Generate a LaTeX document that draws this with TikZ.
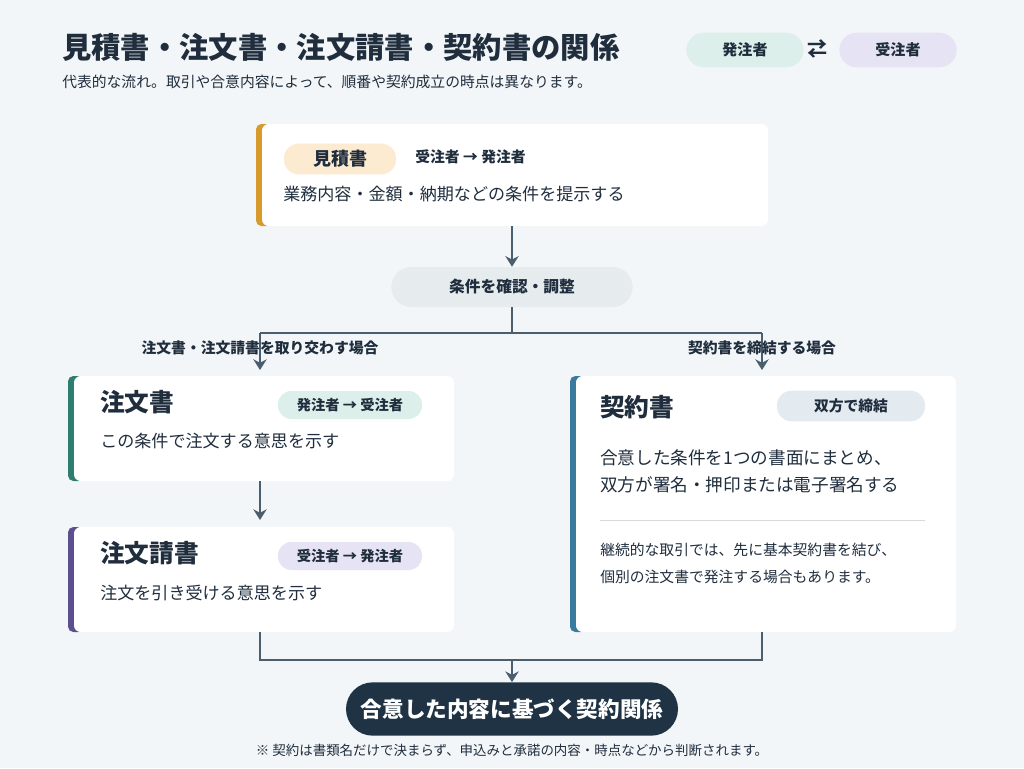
\documentclass[tikz,border=0pt]{standalone}
\usepackage{fontspec}
\setmainfont{Noto Sans CJK JP}
\usetikzlibrary{arrows.meta,positioning}
\definecolor{bgc}{HTML}{F3F6F8}
\definecolor{ink}{HTML}{1F2D3D}
\definecolor{linec}{HTML}{4A5E6E}
\definecolor{orangec}{HTML}{D69A2D}
\definecolor{greenc}{HTML}{2E7D6E}
\definecolor{purplec}{HTML}{5B4F8F}
\definecolor{bluec}{HTML}{3A7A9E}
\definecolor{greenl}{HTML}{DDEFEA}
\definecolor{purplel}{HTML}{E6E4F4}
\definecolor{orangel}{HTML}{FCEBD0}
\definecolor{bluel}{HTML}{E3EBF1}
\definecolor{grayl}{HTML}{E6EBEE}
\definecolor{darkc}{HTML}{1F3344}
\newcommand{\fs}[1]{\fontsize{#1}{#1}\selectfont}
\tikzset{
  card/.style={fill=white,rounded corners=5pt,draw=black!6},
  pill/.style={rounded corners=14pt,inner sep=0pt,text=ink,font=\fs{11.3}\bfseries},
  txt/.style={anchor=west,inner sep=0pt,text=ink},
  flow/.style={draw=linec,line width=1.7pt},
  arr/.style={flow,-{Stealth[length=8pt,width=10pt]}},
}
\begin{document}
\begin{tikzpicture}[x=0.75pt,y=-0.75pt]
\path[fill=bgc] (0,0) rectangle (1024,768);
\useasboundingbox (0,0) rectangle (1024,768);
% header
\node[txt,font=\fs{22}\bfseries] (title) at (62,47) {見積書・注文書・注文請書・契約書の関係};
\node[txt,font=\fs{11.1}] (sub) at (62,82) {代表的な流れ。取引や合意内容によって、順番や契約成立の時点は異なります。};
\node[pill,fill=greenl,minimum width=88pt,minimum height=26pt,rounded corners=13pt] (lgA) at (745,50) {発注者};
\node[pill,fill=purplel,minimum width=88pt,minimum height=26pt,rounded corners=13pt] (lgB) at (898,50) {受注者};
\node[text=ink,font=\fs{15}\bfseries] (lgX) at (817,49) {⇄};
% estimate card
\fill[orangec,rounded corners=4pt] (256,124) rectangle (272,226);
\path[card,draw=none] (262,124) rectangle (768,226);
\node[pill,fill=orangel,minimum width=84pt,minimum height=23pt,rounded corners=11pt,font=\fs{13.5}\bfseries] (estT) at (340,159) {見積書};
\node[txt,font=\fs{11.1}\bfseries] (estD) at (415,157) {受注者 → 発注者};
\node[txt,font=\fs{12.8}] (estB) at (283,194) {業務内容・金額・納期などの条件を提示する};
\coordinate (estS) at (512,226);
% adjust
\node[pill,fill=grayl,minimum width=181pt,minimum height=30pt,rounded corners=15pt,font=\fs{11.8}\bfseries] (adj) at (512,287) {条件を確認・調整};
\draw[arr] (estS) -- (adj.north);
\coordinate (split) at (512,333);
\coordinate (splitL) at (260,333);
\coordinate (splitR) at (762,333);
\coordinate (inL) at (260,370);
\coordinate (inR) at (762,370);
\draw[flow] (adj.south) -- (split);
\draw[flow] (splitL) -- (splitR);
\draw[arr] (splitL) -- (inL);
\draw[arr] (splitR) -- (inR);
\node[text=ink,font=\fs{11.1}\bfseries] (caseL) at (260,348) {注文書・注文請書を取り交わす場合};
\node[text=ink,font=\fs{11.1}\bfseries] (caseR) at (762,348) {契約書を締結する場合};
% order card
\fill[greenc,rounded corners=4pt] (68,376) rectangle (84,481);
\path[card,draw=none] (74,376) rectangle (454,481);
\node[txt,font=\fs{18.5}\bfseries] (ordT) at (100,402) {注文書};
\node[pill,fill=greenl,minimum width=108pt,minimum height=21pt,rounded corners=10pt,font=\fs{10.7}\bfseries] (ordD) at (350,405) {発注者 → 受注者};
\node[txt,font=\fs{12.8}] (ordB) at (100,441) {この条件で注文する意思を示す};
% acceptance card
\fill[purplec,rounded corners=4pt] (68,527) rectangle (84,632);
\path[card,draw=none] (74,527) rectangle (454,632);
\node[txt,font=\fs{18.5}\bfseries] (accT) at (100,553) {注文請書};
\node[pill,fill=purplel,minimum width=108pt,minimum height=21pt,rounded corners=10pt,font=\fs{10.7}\bfseries] (accD) at (350,556) {受注者 → 発注者};
\node[txt,font=\fs{12.8}] (accB) at (100,593) {注文を引き受ける意思を示す};
\coordinate (ordS) at (260,481);
\coordinate (accN) at (260,520);
\draw[arr] (ordS) -- (accN);
% contract card
\fill[bluec,rounded corners=4pt] (570,376) rectangle (586,632);
\path[card,draw=none] (576,376) rectangle (956,632);
\node[txt,font=\fs{18.5}\bfseries] (conT) at (600,407) {契約書};
\node[pill,fill=bluel,minimum width=111pt,minimum height=23pt,rounded corners=11pt,font=\fs{11.1}\bfseries] (conD) at (851,406) {双方で締結};
\node[txt,font=\fs{13.2}] (conB1) at (600,458) {合意した条件を1つの書面にまとめ、};
\node[txt,font=\fs{13.2}] (conB2) at (600,485) {双方が署名・押印または電子署名する};
\draw[black!15] (600,520) -- (925,520);
\node[txt,font=\fs{11.1}] (conN1) at (600,550) {継続的な取引では、先に基本契約書を結び、};
\node[txt,font=\fs{11.1}] (conN2) at (600,577) {個別の注文書で発注する場合もあります。};
% merge
\coordinate (accS) at (260,632);
\coordinate (conS) at (762,632);
\coordinate (mL) at (260,660);
\coordinate (mR) at (762,660);
\coordinate (mC) at (512,660);
\node[fill=darkc,text=white,rounded corners=20pt,minimum width=249pt,minimum height=40pt,inner sep=0pt,font=\fs{16.2}\bfseries] (res) at (512,709) {合意した内容に基づく契約関係};
\draw[flow] (accS) -- (mL) -- (mR) -- (conS);
\draw[arr] (mC) -- (res.north);
\node[text=ink,font=\fs{10.1}] (foot) at (512,750) {※ 契約は書類名だけで決まらず、申込みと承諾の内容・時点などから判断されます。};
\end{tikzpicture}
\end{document}
